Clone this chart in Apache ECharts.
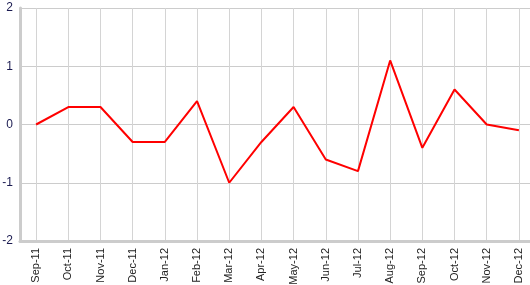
<!DOCTYPE html>
<html><head><meta charset="utf-8">
<script src="https://cdn.jsdelivr.net/npm/echarts@6/dist/echarts.min.js"></script>
<style>html,body{margin:0;padding:0;background:#fff}#c{width:530px;height:285px}</style>
</head><body><div id="c"></div>
<script>
const categories = ["Sep-11","Oct-11","Nov-11","Dec-11","Jan-12","Feb-12","Mar-12","Apr-12","May-12","Jun-12","Jul-12","Aug-12","Sep-12","Oct-12","Nov-12","Dec-12"];
const values = [0, 0.3, 0.3, -0.3, -0.3, 0.4, -1.0, -0.3, 0.3, -0.6, -0.8, 1.1, -0.4, 0.6, 0.0, -0.1];
const yTicks = [-2, -1, 0, 1, 2];

const chart = echarts.init(document.getElementById('c'), null, {renderer: 'canvas'});
chart.setOption({
  animation: false,
  grid: {left: 20, width: 515, top: 8, height: 233, containLabel: false, outerBoundsMode: 'none'},
  xAxis: {
    type: 'category',
    data: categories,
    boundaryGap: true,
    axisLine: {onZero: false, lineStyle: {color: '#cccccc', width: 3}},
    axisTick: {alignWithLabel: true, length: 5, lineStyle: {color: '#cccccc'}},
    axisLabel: {rotate: 90, margin: 7, color: '#222222', fontSize: 11, fontFamily: 'Liberation Sans, Arial', interval: 0},
    splitLine: {show: true, alignWithLabel: true, lineStyle: {color: '#d4d4d4', width: 1}}
  },
  yAxis: {
    type: 'value',
    min: yTicks[0], max: yTicks[yTicks.length-1], interval: 1,
    axisLine: {show: true, onZero: false, lineStyle: {color: '#cccccc', width: 3}},
    axisTick: {show: false},
    axisLabel: {margin: 7, color: '#1a1a50', fontSize: 12, fontFamily: 'Liberation Sans, Arial'},
    splitLine: {lineStyle: {color: '#cccccc', width: 1}}
  },
  series: [{
    type: 'line',
    data: values,
    symbol: 'none',
    lineStyle: {color: '#ff0000', width: 2}
  }]
});
</script></body></html>
